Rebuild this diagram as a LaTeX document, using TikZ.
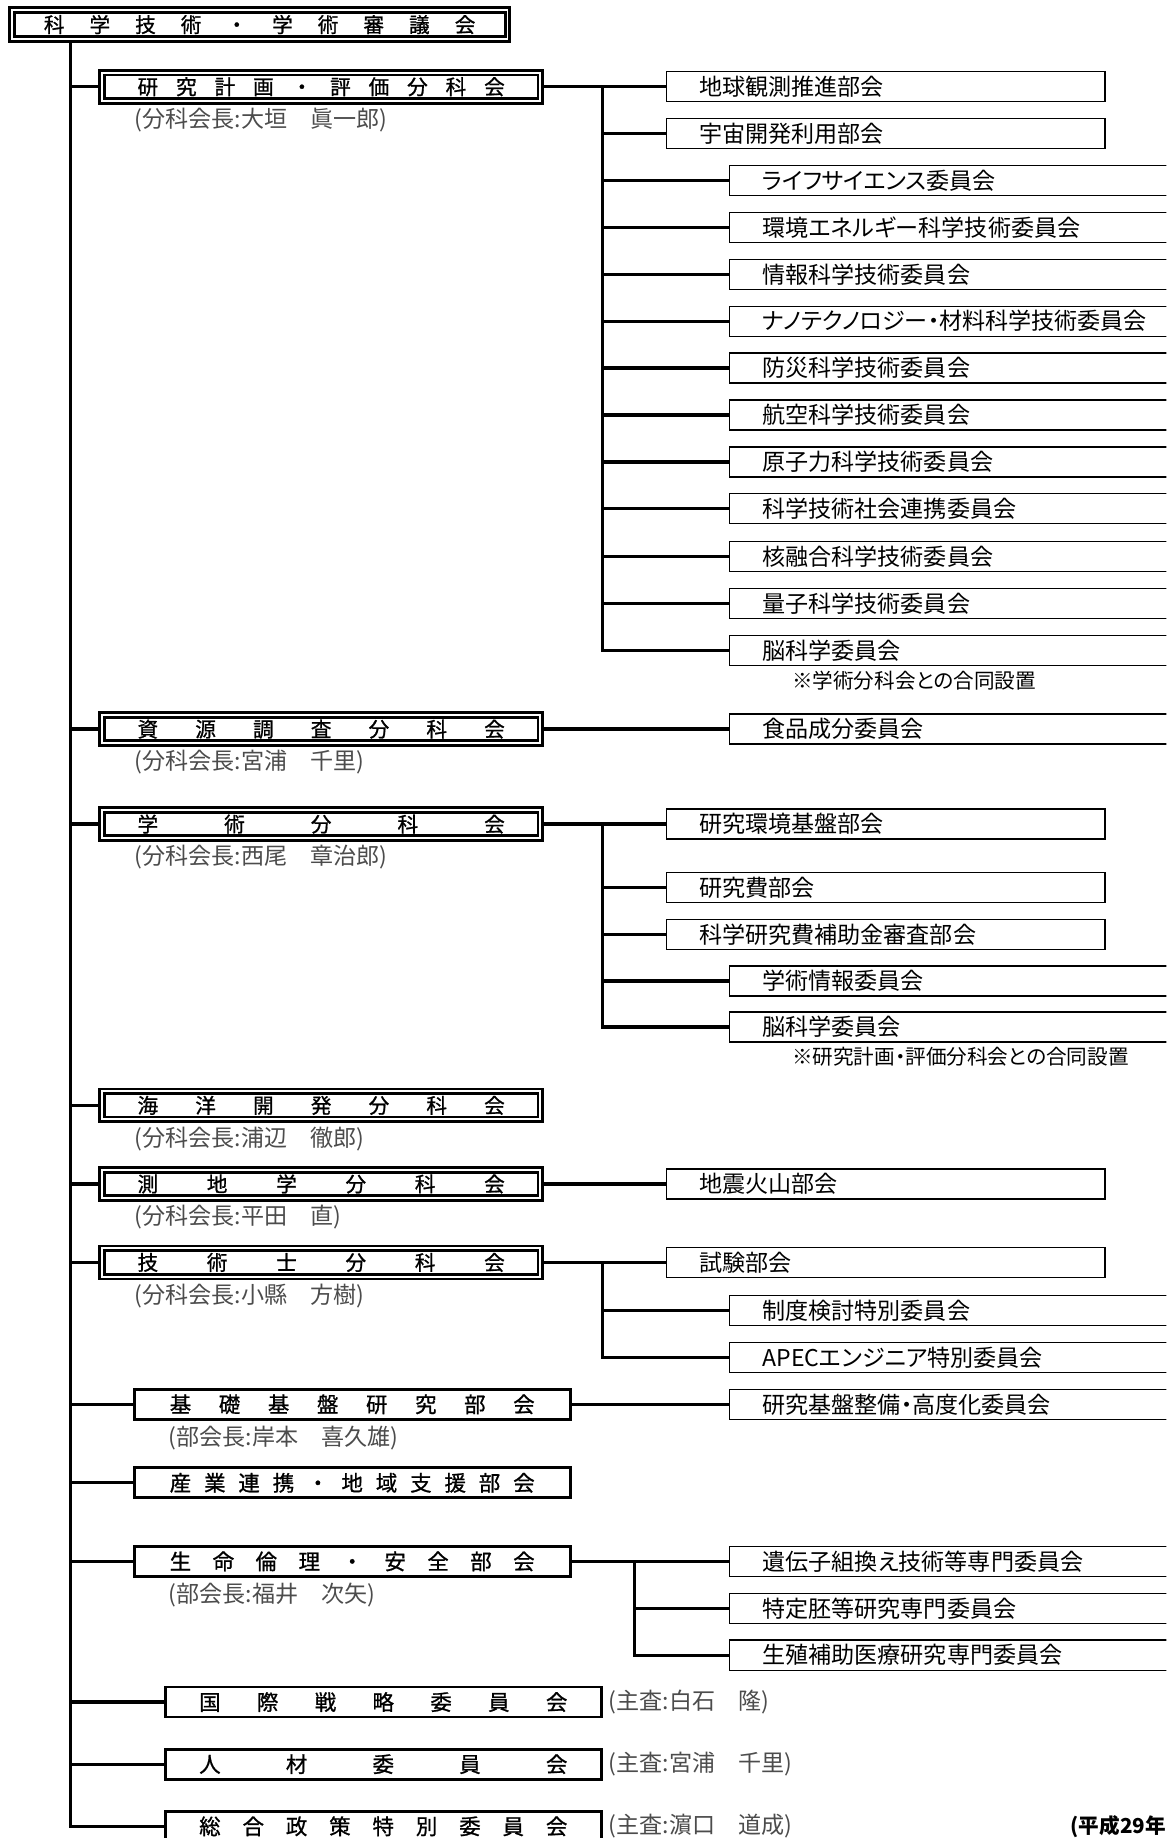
\documentclass[tikz,border=0pt]{standalone}
\usepackage{fontspec}
\setmainfont{Noto Sans CJK JP}[RawFeature=+palt]
\newfontfamily\boxfont{Noto Sans CJK JP}[FakeBold=1]
\usepackage{tikz}
\usepackage{xcolor}
\usetikzlibrary{calc}
\usetikzlibrary{positioning}
\definecolor{chairgray}{gray}{0.3}
\newcommand{\spreadtext}[2]{\makebox[#1][s]{#2}}

\begin{document}
\begin{tikzpicture}[x=0.025cm, y=-0.025cm]
            % Set primary nodes
            \tikzset{
                councilNode/.style={
                        draw, double,
                        line width=1.7pt,
                        double distance=1.2pt,
                        minimum height=0.62cm,
                        minimum width=10.57cm,
                        inner sep=0pt,
                        font=\boxfont\fontsize{12.5}{14}\selectfont
                    }
            }
            \tikzset{
                divisionNode/.style={
                        draw, double,
                        line width=1.7pt,
                        double distance=1.2pt,
                        minimum height=0.6cm,
                        minimum width=9.35cm,
                        inner sep=0pt,
                        font=\boxfont\fontsize{12.5}{14}\selectfont
                    }
            }
            \tikzset{
                sectionNode/.style={
                        draw,
                        line width=1.7pt,
                        minimum height=0.64cm,
                        minimum width=9.3cm,
                        inner sep=0pt,
                        font=\boxfont\fontsize{13}{15}\selectfont
                    }
            }
            \tikzset{
                subNode/.style={
                        draw,
                        line width=0.8pt,
                        minimum height=0.64cm,
                        text width=7.95cm,
                        align=left,
                        inner xsep=0.7cm,
                        inner ysep=0pt,
                        font=\fontsize{14}{16}\selectfont
                    }
            }
            \tikzset{
                subCommitteeNode/.style={
                        subNode,
                        text width=9.1cm
                    }
            }
            \tikzset{
                chairNode/.style={
                        anchor=west,
                        inner sep=0pt,
                        text=chairgray,
                        font=\fontsize{14}{16}\selectfont
                    }
            }
            \tikzset{
                noteNode/.style={
                        anchor=west,
                        inner sep=0pt,
                        font=\fontsize{12.5}{14}\selectfont
                    }
            }
            % Configure lines
            \tikzstyle{link} = [line width=2pt]
            \useasboundingbox (0,0) rectangle (995,1568);
            \clip (0,0) rectangle (995,1568);
            % Placing nodes
            \node[councilNode](council) at (221.5,21){\spreadtext{9.2cm}{科 学 技 術 ・ 学 術 審 議 会}};
            \node[divisionNode](kenkyu) at (274,74){\spreadtext{7.83cm}{研 究 計 画 ・ 評 価 分 科 会}};
            \node[divisionNode](shigen) at (274,622){\spreadtext{7.83cm}{資 源 調 査 分 科 会}};
            \node[divisionNode](gakujutsu) at (274,703){\spreadtext{7.83cm}{学 術 分 科 会}};
            \node[divisionNode](kaiyo) at (274,943){\spreadtext{7.83cm}{海 洋 開 発 分 科 会}};
            \node[divisionNode](sokuchi) at (274,1010){\spreadtext{7.83cm}{測 地 学 分 科 会}};
            \node[divisionNode](gijutsushi) at (274,1077){\spreadtext{7.83cm}{技 術 士 分 科 会}};
            \node[sectionNode](kiso) at (300.5,1198){\spreadtext{7.78cm}{基 礎 基 盤 研 究 部 会}};
            \node[sectionNode](sangyo) at (300.5,1265){\spreadtext{7.78cm}{産 業 連 携 ・ 地 域 支 援 部 会}};
            \node[sectionNode](seimei) at (300.5,1332){\spreadtext{7.78cm}{生 命 倫 理 ・ 安 全 部 会}};
            \node[sectionNode](kokusai) at (327,1452){\spreadtext{7.85cm}{国 際 戦 略 委 員 会}};
            \node[sectionNode](jinzai) at (327,1505){\spreadtext{7.85cm}{人 材 委 員 会}};
            \node[sectionNode](sogo) at (327,1558){\spreadtext{7.85cm}{総 合 政 策 特 別 委 員 会}};
            % Chair labels
            \node[chairNode](kenkyuChair) at ([xshift=0.725cm,yshift=-0.38cm]kenkyu.south west){(分科会長:大垣　眞一郎)};
            \node[chairNode](shigenChair) at ([xshift=0.725cm,yshift=-0.38cm]shigen.south west){(分科会長:宮浦　千里)};
            \node[chairNode](gakujutsuChair) at ([xshift=0.725cm,yshift=-0.38cm]gakujutsu.south west){(分科会長:西尾　章治郎)};
            \node[chairNode](kaiyoChair) at ([xshift=0.725cm,yshift=-0.38cm]kaiyo.south west){(分科会長:浦辺　徹郎)};
            \node[chairNode](sokuchiChair) at ([xshift=0.725cm,yshift=-0.38cm]sokuchi.south west){(分科会長:平田　直)};
            \node[chairNode](gijutsushiChair) at ([xshift=0.725cm,yshift=-0.38cm]gijutsushi.south west){(分科会長:小縣　方樹)};
            \node[chairNode](kisoChair) at ([xshift=0.76cm,yshift=-0.36cm]kiso.south west){(部会長:岸本　喜久雄)};
            \node[chairNode](seimeiChair) at ([xshift=0.76cm,yshift=-0.36cm]seimei.south west){(部会長:福井　次矢)};
            \node[chairNode, right = 0.12cm of kokusai](kokusaiChair){(主査:白石　隆)};
            \node[chairNode, right = 0.12cm of jinzai](jinzaiChair){(主査:宮浦　千里)};
            \node[chairNode, right = 0.12cm of sogo](sogoChair){(主査:濵口　道成)};
            % Right column
            \node[subNode](chikyu) at (755.5,74){地球観測推進部会};
            \node[subNode](uchu) at (755.5,114){宇宙開発利用部会};
            \node[subCommitteeNode](life) at (832.5,154){ライフサイエンス委員会};
            \node[subCommitteeNode](energy) at (832.5,194){環境エネルギー科学技術委員会};
            \node[subCommitteeNode](joho) at (832.5,234){情報科学技術委員会};
            \node[subCommitteeNode](nano) at (832.5,274){ナノテクノロジー・材料科学技術委員会};
            \node[subCommitteeNode](bosai) at (832.5,314){防災科学技術委員会};
            \node[subCommitteeNode](koku) at (832.5,354){航空科学技術委員会};
            \node[subCommitteeNode](genshi) at (832.5,394){原子力科学技術委員会};
            \node[subCommitteeNode](shakai) at (832.5,434){科学技術社会連携委員会};
            \node[subCommitteeNode](yugo) at (832.5,475){核融合科学技術委員会};
            \node[subCommitteeNode](ryoshi) at (832.5,515){量子科学技術委員会};
            \node[subCommitteeNode](nouA) at (832.5,555){脳科学委員会};
            \node[noteNode](nouANote) at ([xshift=1.34cm,yshift=-0.3cm]nouA.south west){※学術分科会との合同設置};
            \node[subCommitteeNode](shokuhin) at (832.5,622){食品成分委員会};
            \node[subNode](kankyoKiban) at (755.5,703){研究環境基盤部会};
            \node[subNode](kenkyuhi) at (755.5,757){研究費部会};
            \node[subNode](kakenhi) at (755.5,797){科学研究費補助金審査部会};
            \node[subCommitteeNode](gakuJoho) at (832.5,837){学術情報委員会};
            \node[subCommitteeNode](nouB) at (832.5,876){脳科学委員会};
            \node[noteNode](nouBNote) at ([xshift=1.34cm,yshift=-0.3cm]nouB.south west){※研究計画・評価分科会との合同設置};
            \node[subNode](jishin) at (755.5,1010){地震火山部会};
            \node[subNode](shiken) at (755.5,1077){試験部会};
            \node[subCommitteeNode](seido) at (832.5,1118){制度検討特別委員会};
            \node[subCommitteeNode](apec) at (832.5,1158){APECエンジニア特別委員会};
            \node[subCommitteeNode](kiban) at (832.5,1198){研究基盤整備・高度化委員会};
            \node[subCommitteeNode](idenshi) at (832.5,1332){遺伝子組換え技術等専門委員会};
            \node[subCommitteeNode](tokutei) at (832.5,1372){特定胚等研究専門委員会};
            \node[subCommitteeNode](seishoku) at (832.5,1412){生殖補助医療研究専門委員会};
            \node[anchor=west, inner sep=0pt, font=\fontsize{12.5}{14}\selectfont\bfseries](date) at (913,1558){(平成29年};
            % Bus coordinates
            \coordinate (trunk) at (60,0);
            \coordinate (busA) at (514,0);
            \coordinate (busB) at (541,0);
            % Draw lines
            \draw[link](council.south -| trunk) |- (sogo.west);
            \draw[link](kenkyu.west -| trunk) -- (kenkyu.west);
            \draw[link](shigen.west -| trunk) -- (shigen.west);
            \draw[link](gakujutsu.west -| trunk) -- (gakujutsu.west);
            \draw[link](kaiyo.west -| trunk) -- (kaiyo.west);
            \draw[link](sokuchi.west -| trunk) -- (sokuchi.west);
            \draw[link](gijutsushi.west -| trunk) -- (gijutsushi.west);
            \draw[link](kiso.west -| trunk) -- (kiso.west);
            \draw[link](sangyo.west -| trunk) -- (sangyo.west);
            \draw[link](seimei.west -| trunk) -- (seimei.west);
            \draw[link](kokusai.west -| trunk) -- (kokusai.west);
            \draw[link](jinzai.west -| trunk) -- (jinzai.west);
            % Research planning branch
            \draw[link](kenkyu.east) -- (chikyu.west);
            \draw[link](kenkyu.east -| busA) |- (nouA.west);
            \draw[link](uchu.west -| busA) -- (uchu.west);
            \draw[link](life.west -| busA) -- (life.west);
            \draw[link](energy.west -| busA) -- (energy.west);
            \draw[link](joho.west -| busA) -- (joho.west);
            \draw[link](nano.west -| busA) -- (nano.west);
            \draw[link](bosai.west -| busA) -- (bosai.west);
            \draw[link](koku.west -| busA) -- (koku.west);
            \draw[link](genshi.west -| busA) -- (genshi.west);
            \draw[link](shakai.west -| busA) -- (shakai.west);
            \draw[link](yugo.west -| busA) -- (yugo.west);
            \draw[link](ryoshi.west -| busA) -- (ryoshi.west);
            % Other branches
            \draw[link](shigen.east) -- (shokuhin.west);
            \draw[link](gakujutsu.east) -- (kankyoKiban.west);
            \draw[link](gakujutsu.east -| busA) |- (nouB.west);
            \draw[link](kenkyuhi.west -| busA) -- (kenkyuhi.west);
            \draw[link](kakenhi.west -| busA) -- (kakenhi.west);
            \draw[link](gakuJoho.west -| busA) -- (gakuJoho.west);
            \draw[link](sokuchi.east) -- (jishin.west);
            \draw[link](gijutsushi.east) -- (shiken.west);
            \draw[link](gijutsushi.east -| busA) |- (apec.west);
            \draw[link](seido.west -| busA) -- (seido.west);
            \draw[link](kiso.east) -- (kiban.west);
            \draw[link](seimei.east) -- (idenshi.west);
            \draw[link](seimei.east -| busB) |- (seishoku.west);
            \draw[link](tokutei.west -| busB) -- (tokutei.west);
        \end{tikzpicture}
\end{document}
